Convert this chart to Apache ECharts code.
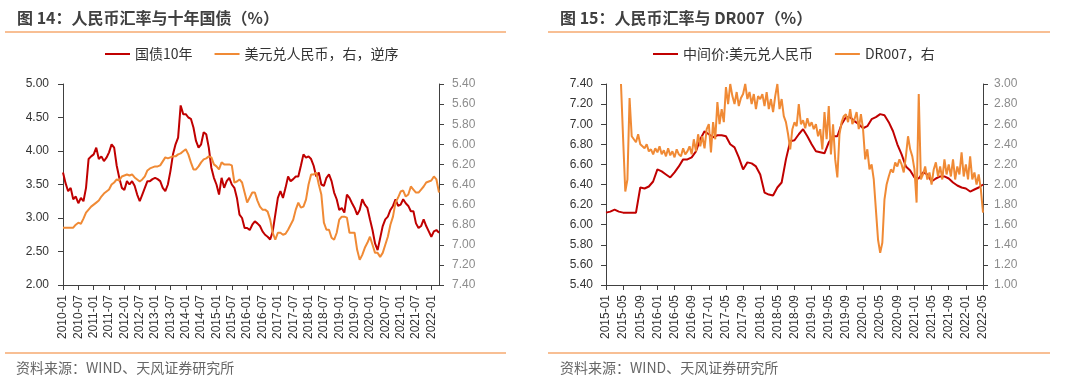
<!DOCTYPE html>
<html><head><meta charset="utf-8">
<script src="https://cdn.jsdelivr.net/npm/echarts@6/dist/echarts.min.js"></script>
<style>html,body{margin:0;padding:0;background:#fff}#c{width:1080px;height:386px}</style>
</head><body><div id="c"></div>
<script>
// ---------- Chart 14 (monthly, 2010-01 .. 2022-04) ----------
const leftStartYear = 2010;
const cgb10y = [
 3.68,3.52,3.40,3.45,3.28,3.32,3.22,3.30,3.25,3.45,3.88,3.92,
 3.95,4.05,3.88,3.92,3.85,3.90,3.98,4.10,4.05,3.78,3.60,3.45,
 3.42,3.55,3.50,3.55,3.48,3.35,3.25,3.35,3.45,3.55,3.55,3.58,
 3.60,3.58,3.55,3.45,3.40,3.50,3.70,3.95,4.10,4.20,4.68,4.55,
 4.55,4.50,4.48,4.35,4.15,4.05,4.10,4.28,4.25,4.05,3.75,3.60,
 3.50,3.35,3.60,3.45,3.55,3.60,3.50,3.45,3.30,3.05,3.00,2.85,
 2.85,2.82,2.90,2.95,2.92,2.88,2.80,2.75,2.72,2.68,2.80,3.05,
 3.30,3.40,3.30,3.45,3.62,3.55,3.58,3.62,3.62,3.78,3.95,3.90,
 3.92,3.88,3.78,3.62,3.68,3.50,3.48,3.60,3.65,3.55,3.38,3.28,
 3.12,3.15,3.08,3.35,3.30,3.22,3.15,3.05,3.12,3.28,3.20,3.15,
 2.98,2.82,2.62,2.52,2.70,2.88,2.98,3.02,3.12,3.18,3.28,3.18,
 3.20,3.28,3.22,3.18,3.10,3.10,2.92,2.85,2.88,2.98,2.88,2.80,
 2.72,2.80,2.82,2.78
];
const usdcnyLeft = [
 6.83,6.83,6.83,6.83,6.83,6.80,6.78,6.79,6.74,6.68,6.65,6.62,
 6.60,6.58,6.56,6.52,6.49,6.47,6.45,6.40,6.38,6.35,6.36,6.32,
 6.31,6.30,6.31,6.30,6.33,6.35,6.37,6.35,6.32,6.26,6.24,6.23,
 6.22,6.22,6.21,6.17,6.13,6.14,6.13,6.12,6.12,6.10,6.09,6.07,
 6.05,6.10,6.18,6.25,6.25,6.22,6.18,6.15,6.14,6.12,6.13,6.20,
 6.22,6.25,6.18,6.20,6.20,6.20,6.21,6.38,6.37,6.35,6.38,6.48,
 6.58,6.53,6.48,6.48,6.56,6.62,6.65,6.65,6.67,6.75,6.88,6.95,
 6.88,6.88,6.90,6.89,6.85,6.80,6.75,6.65,6.58,6.63,6.62,6.55,
 6.40,6.30,6.30,6.28,6.40,6.50,6.78,6.85,6.85,6.93,6.95,6.88,
 6.75,6.72,6.72,6.73,6.88,6.88,6.88,7.05,7.15,7.10,7.03,6.98,
 6.92,7.00,7.08,7.08,7.12,7.08,7.00,6.92,6.80,6.72,6.58,6.53,
 6.47,6.46,6.52,6.50,6.42,6.45,6.48,6.48,6.45,6.42,6.38,6.37,
 6.36,6.32,6.35,6.48
];
const leftYTicks = {min: 2.0, max: 5.0, step: 0.5};
const leftY2Ticks = {min: 5.4, max: 7.4, step: 0.2};

// ---------- Chart 15 (2015-01 .. 2022-05) ----------
const rightStartYear = 2015;
const usdcnyMid = [
 6.12,6.13,6.15,6.13,6.12,6.12,6.12,6.12,6.37,6.36,6.38,6.43,
 6.55,6.53,6.50,6.47,6.52,6.58,6.65,6.65,6.67,6.73,6.85,6.93,
 6.90,6.87,6.89,6.89,6.88,6.80,6.77,6.67,6.55,6.62,6.61,6.58,
 6.50,6.32,6.30,6.29,6.37,6.42,6.65,6.83,6.84,6.90,6.95,6.88,
 6.80,6.73,6.72,6.71,6.82,6.88,6.88,7.00,7.07,7.07,7.03,7.00,
 6.96,6.98,7.05,7.07,7.10,7.09,7.02,6.93,6.80,6.70,6.58,6.54,
 6.47,6.46,6.52,6.50,6.43,6.46,6.48,6.48,6.46,6.42,6.39,6.37,
 6.36,6.33,6.35,6.37,6.40
];
// DR007, half-monthly readings starting mid 2015-04 (month index 3.5)
const dr007Start = 3.5;
const dr007 = [
 3.00,2.45,1.93,2.05,2.86,2.48,2.45,2.42,2.50,2.40,2.38,2.36,2.40,2.33,2.35,2.30,2.36,
 2.32,2.38,2.30,2.34,2.28,2.36,2.29,2.33,2.27,2.35,2.30,2.28,2.36,2.30,2.33,2.38,2.30,2.45,2.33,2.50,2.38,2.48,2.36,2.55,
 2.60,2.32,2.62,2.45,2.82,2.60,2.75,2.62,2.97,2.80,3.00,2.88,2.80,2.92,2.78,2.86,2.90,3.00,2.85,2.92,2.80,2.90,2.75,2.88,
 2.85,2.90,2.78,2.92,2.75,2.85,2.72,2.88,3.00,2.75,2.85,2.68,2.62,2.50,2.35,2.55,2.62,2.58,2.80,2.60,2.64,2.56,2.66,2.58,
 2.62,2.55,2.60,2.48,2.55,2.35,2.72,2.45,2.78,2.30,2.60,2.25,2.07,2.50,2.62,2.68,2.70,2.62,2.75,2.60,2.65,2.72,2.55,2.70,
 2.55,2.25,2.35,2.15,2.20,2.05,1.75,1.45,1.32,1.42,1.85,2.00,2.08,2.15,2.12,2.22,2.18,2.25,2.20,2.12,2.28,2.48,2.35,2.28,
 2.15,1.82,2.90,2.05,2.10,2.18,2.05,2.12,2.00,2.15,2.22,2.08,2.18,2.05,2.25,2.10,2.20,2.08,2.25,2.05,2.18,2.10,2.32,2.08,
 2.20,2.05,2.28,2.05,2.12,2.00,2.10,1.95,1.72
];
const rightYTicks = {min: 5.4, max: 7.4, step: 0.2};
const rightY2Ticks = {min: 1.0, max: 3.0, step: 0.2};

// ---------- build ----------
const RED = '#C00000', ORANGE = '#F08A35', DEEP = '#404040', GREY = '#8C8C8C', RULE = '#F6AA70';
const NUM_FONT = 'Liberation Sans';
const CJK = '"Noto Sans CJK SC"';
function monthLabel(startYear, v) {
  const y = startYear + Math.floor(v / 12), m = (v % 12) + 1;
  return y + '-' + (m < 10 ? '0' + m : m);
}
const cgbData = cgb10y.map((v, i) => [i, v]);
const fxLData = usdcnyLeft.map((v, i) => [i, v]);
const midData = usdcnyMid.map((v, i) => [i, v]);
const drData = dr007.map((v, i) => [dr007Start + i * 0.5, v]);

function xAxisCfg(gridIndex, max, step, startYear) {
  return {
    type: 'value', gridIndex, min: 0, max, interval: step,
    splitLine: {show: false},
    axisLine: {show: true, lineStyle: {color: DEEP, width: 1}},
    axisTick: {show: true, length: 5, lineStyle: {color: DEEP}},
    axisLabel: {
      rotate: 90, margin: 10, fontSize: 12, fontFamily: NUM_FONT, color: '#333',
      showMaxLabel: max % step === 0,
      formatter: v => (v % step === 0 ? monthLabel(startYear, v) : '')
    }
  };
}
function yAxisCfg(gridIndex, t, pos, color, inverse, margin) {
  return {
    type: 'value', gridIndex, position: pos, min: t.min, max: t.max, interval: t.step,
    inverse: !!inverse,
    splitLine: {show: false},
    axisLine: {show: true, lineStyle: {color: DEEP, width: 1}},
    axisTick: {show: true, length: 5, lineStyle: {color: DEEP}},
    axisLabel: {fontSize: 12, fontFamily: NUM_FONT, color, margin,
      formatter: v => v.toFixed(2)}
  };
}
function lineSeries(name, data, xi, yi, color) {
  return {name, type: 'line', data, xAxisIndex: xi, yAxisIndex: yi, symbol: 'none',
    lineStyle: {color, width: 2}, itemStyle: {color}, animation: false};
}
function txt(x, y, text, font, fill) {
  return {type: 'text', x, y, silent: true,
    style: {text, font, fill, verticalAlign: 'middle', align: 'left'}};
}
function rule(x1, x2, y) {
  return {type: 'line', silent: true, shape: {x1, y1: y, x2, y2: y},
    style: {stroke: RULE, lineWidth: 1.5}};
}

const chart = echarts.init(document.getElementById('c'), null, {renderer: 'canvas'});
chart.setOption({
  backgroundColor: '#fff',
  animation: false,
  textStyle: {fontFamily: CJK},
  grid: [
    {left: 63, right: 641, top: 84, bottom: 101, containLabel: false},
    {left: 606, right: 97, top: 84, bottom: 101, containLabel: false}
  ],
  legend: [
    {left: 100, top: 42, itemWidth: 25, itemHeight: 2, icon: 'rect', itemGap: 22,
      textStyle: {fontSize: 14, color: '#333', fontFamily: CJK},
      data: ['国债10年', '美元兑人民币，右，逆序']},
    {left: 648, top: 42, itemWidth: 25, itemHeight: 2, icon: 'rect', itemGap: 22,
      textStyle: {fontSize: 14, color: '#333', fontFamily: CJK},
      data: ['中间价:美元兑人民币', 'DR007，右']}
  ],
  xAxis: [
    xAxisCfg(0, cgb10y.length - 1, 6, leftStartYear),
    xAxisCfg(1, usdcnyMid.length - 1, 4, rightStartYear)
  ],
  yAxis: [
    yAxisCfg(0, leftYTicks, 'left', '#333', false, 14),
    yAxisCfg(0, leftY2Ticks, 'right', GREY, true, 13),
    yAxisCfg(1, rightYTicks, 'left', '#333', false, 13),
    yAxisCfg(1, rightY2Ticks, 'right', GREY, false, 11)
  ],
  series: [
    lineSeries('国债10年', cgbData, 0, 0, RED),
    lineSeries('美元兑人民币，右，逆序', fxLData, 0, 1, ORANGE),
    lineSeries('中间价:美元兑人民币', midData, 1, 2, RED),
    lineSeries('DR007，右', drData, 1, 3, ORANGE)
  ],
  graphic: [
    txt(17, 18, '图 14：人民币汇率与十年国债（%）', 'bold 16px ' + CJK, '#404040'),
    txt(560, 18, '图 15：人民币汇率与 DR007（%）', 'bold 16px ' + CJK, '#404040'),
    rule(5, 506, 32), rule(548, 1050, 32),
    rule(5, 506, 353), rule(548, 1050, 353),
    txt(16, 368, '资料来源：WIND、天风证券研究所', '14px ' + CJK, '#666'),
    txt(560, 368, '资料来源：WIND、天风证券研究所', '14px ' + CJK, '#666')
  ]
});
</script>
</body></html>
